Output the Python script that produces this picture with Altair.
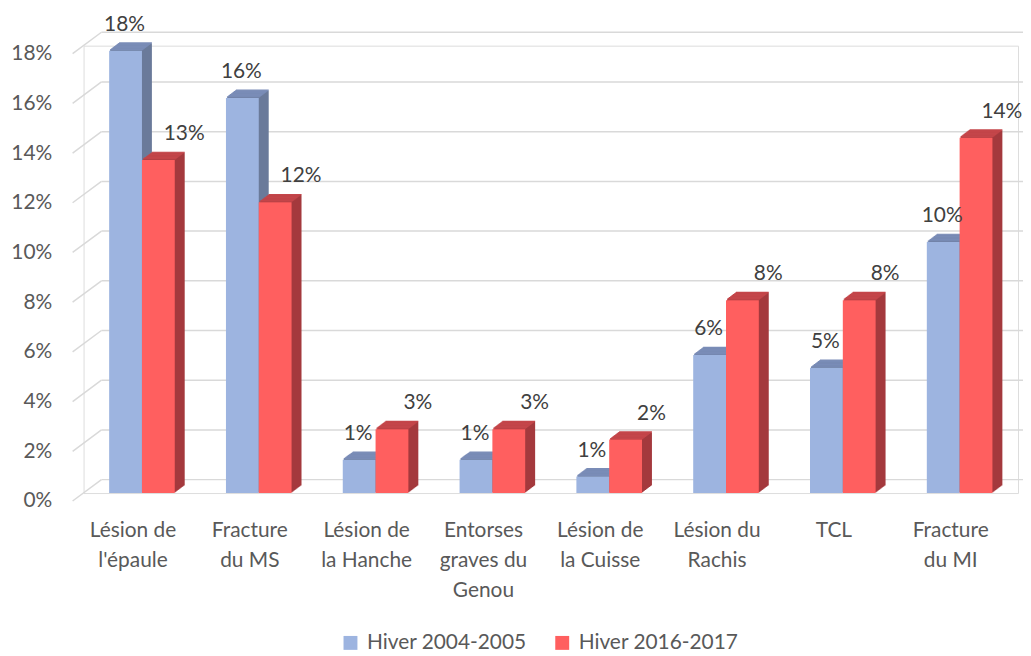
import altair as alt
import pandas as pd

categories = ["Lésion de\nl'épaule", "Fracture\ndu MS", "Lésion de\nla Hanche",
              "Entorses\ngraves du\nGenou", "Lésion de\nla Cuisse", "Lésion du\nRachis",
              "TCL", "Fracture\ndu MI"]
series = ["Hiver 2004-2005", "Hiver 2016-2017"]
hiver_2004_2005 = [0.178, 0.159, 0.0134, 0.0134, 0.0067, 0.0555, 0.0504, 0.101]
hiver_2016_2017 = [0.134, 0.117, 0.0257, 0.0257, 0.0215, 0.0776, 0.0776, 0.143]
y_ticks = [0, 0.02, 0.04, 0.06, 0.08, 0.10, 0.12, 0.14, 0.16, 0.18]

front_colors = ["#9DB4E0", "#FF5F5F"]
side_colors = ["#6A7A9A", "#A4393D"]
top_colors = ["#7A8CB7", "#C4464A"]
label_dx = [-1, 26]
series_off = [-16.5, 16.5]

W, H = 940, 450
FONT = "Lato"

df = pd.DataFrame({
    "cat": categories * 2,
    "serie": [series[0]] * len(categories) + [series[1]] * len(categories),
    "v": hiver_2004_2005 + hiver_2016_2017,
})
ticks_df = pd.DataFrame({"t": y_ticks})

x_scale = alt.Scale(domain=categories, paddingInner=0, paddingOuter=0)
y_scale = alt.Scale(domain=[0, 0.18], nice=False, zero=True)

x_axis = alt.Axis(labelExpr="split(datum.value, '\\n')", labelAngle=0, domain=False,
                  ticks=False, grid=False, labelPadding=27, labelOffset=-9, labelFontSize=21,
                  labelLineHeight=30, labelFont=FONT, labelColor="#595959", title=None,
                  labelLimit=300)
y_axis = alt.Axis(values=y_ticks, format=".0%", domain=False, ticks=False, grid=False,
                  labelPadding=32, labelOffset=8, labelFontSize=21, labelFont=FONT,
                  labelColor="#595959", title=None)


def xenc():
    return alt.X("cat:N", sort=categories, scale=x_scale, axis=x_axis)


def yenc(field="v:Q"):
    return alt.Y(field, scale=y_scale, axis=y_axis)


layers = []

# back wall gridlines
layers.append(
    alt.Chart(ticks_df).mark_rule(color="#D9D9D9", strokeWidth=1.5, yOffset=-13.5)
    .encode(y=yenc("t:Q"), x=alt.value(18), x2=alt.value(W + 10))
)
# diagonal connectors on the left side wall
layers.append(
    alt.Chart(ticks_df).mark_rule(color="#D9D9D9", strokeWidth=1.5, yOffset=8, y2Offset=-13.5)
    .encode(y=yenc("t:Q"), y2=alt.Y2("t"), x=alt.value(-11), x2=alt.value(18))
)

legend = alt.Legend(orient="none", legendX=258, legendY=590, direction="horizontal",
                    title=None, symbolType="square", symbolSize=196, symbolStrokeWidth=0,
                    labelFontSize=21, labelFont=FONT, labelColor="#595959", labelOffset=6,
                    columnPadding=25, padding=0, labelLimit=400)

for i, s in enumerate(series):
    base = alt.Chart(df).transform_filter(alt.datum.serie == s)
    off = series_off[i]
    # side extrusion
    for k in range(1, 11):
        layers.append(
            base.mark_bar(width=33, xOffset=off + k, yOffset=-0.75 * k, y2Offset=-0.75 * k,
                          color=side_colors[i])
            .encode(x=xenc(), y=yenc(), y2=alt.datum(0))
        )
    # top face
    for k in range(1, 11):
        layers.append(
            base.mark_bar(width=33, xOffset=off + k, yOffset=-0.75 * k - 0.9,
                          y2Offset=-0.75 * k + 0.3, color=top_colors[i])
            .encode(x=xenc(), y=yenc(), y2=alt.Y2("v"))
        )
    # front face
    layers.append(
        base.mark_bar(width=33, xOffset=off)
        .encode(
            x=xenc(), y=yenc(), y2=alt.datum(0),
            color=alt.Color("serie:N", scale=alt.Scale(domain=series, range=front_colors),
                            legend=legend),
        )
    )

for i, s in enumerate(series):
    base = alt.Chart(df).transform_filter(alt.datum.serie == s)
    layers.append(
        base.mark_text(xOffset=series_off[i], dx=label_dx[i], dy=-26, fontSize=21, font=FONT,
                       color="#404040", baseline="middle")
        .encode(x=xenc(), y=yenc(), text=alt.Text("v:Q", format=".0%"))
    )

chart = alt.layer(*layers).properties(
    width=W, height=H,
    autosize=alt.AutoSizeParams(type="none"),
    padding={"left": 76, "top": 36, "right": 5, "bottom": 160},
).configure_view(stroke=None).configure(background="white")

chart.save("out.html", embed_options={"renderer": "svg", "actions": False})
